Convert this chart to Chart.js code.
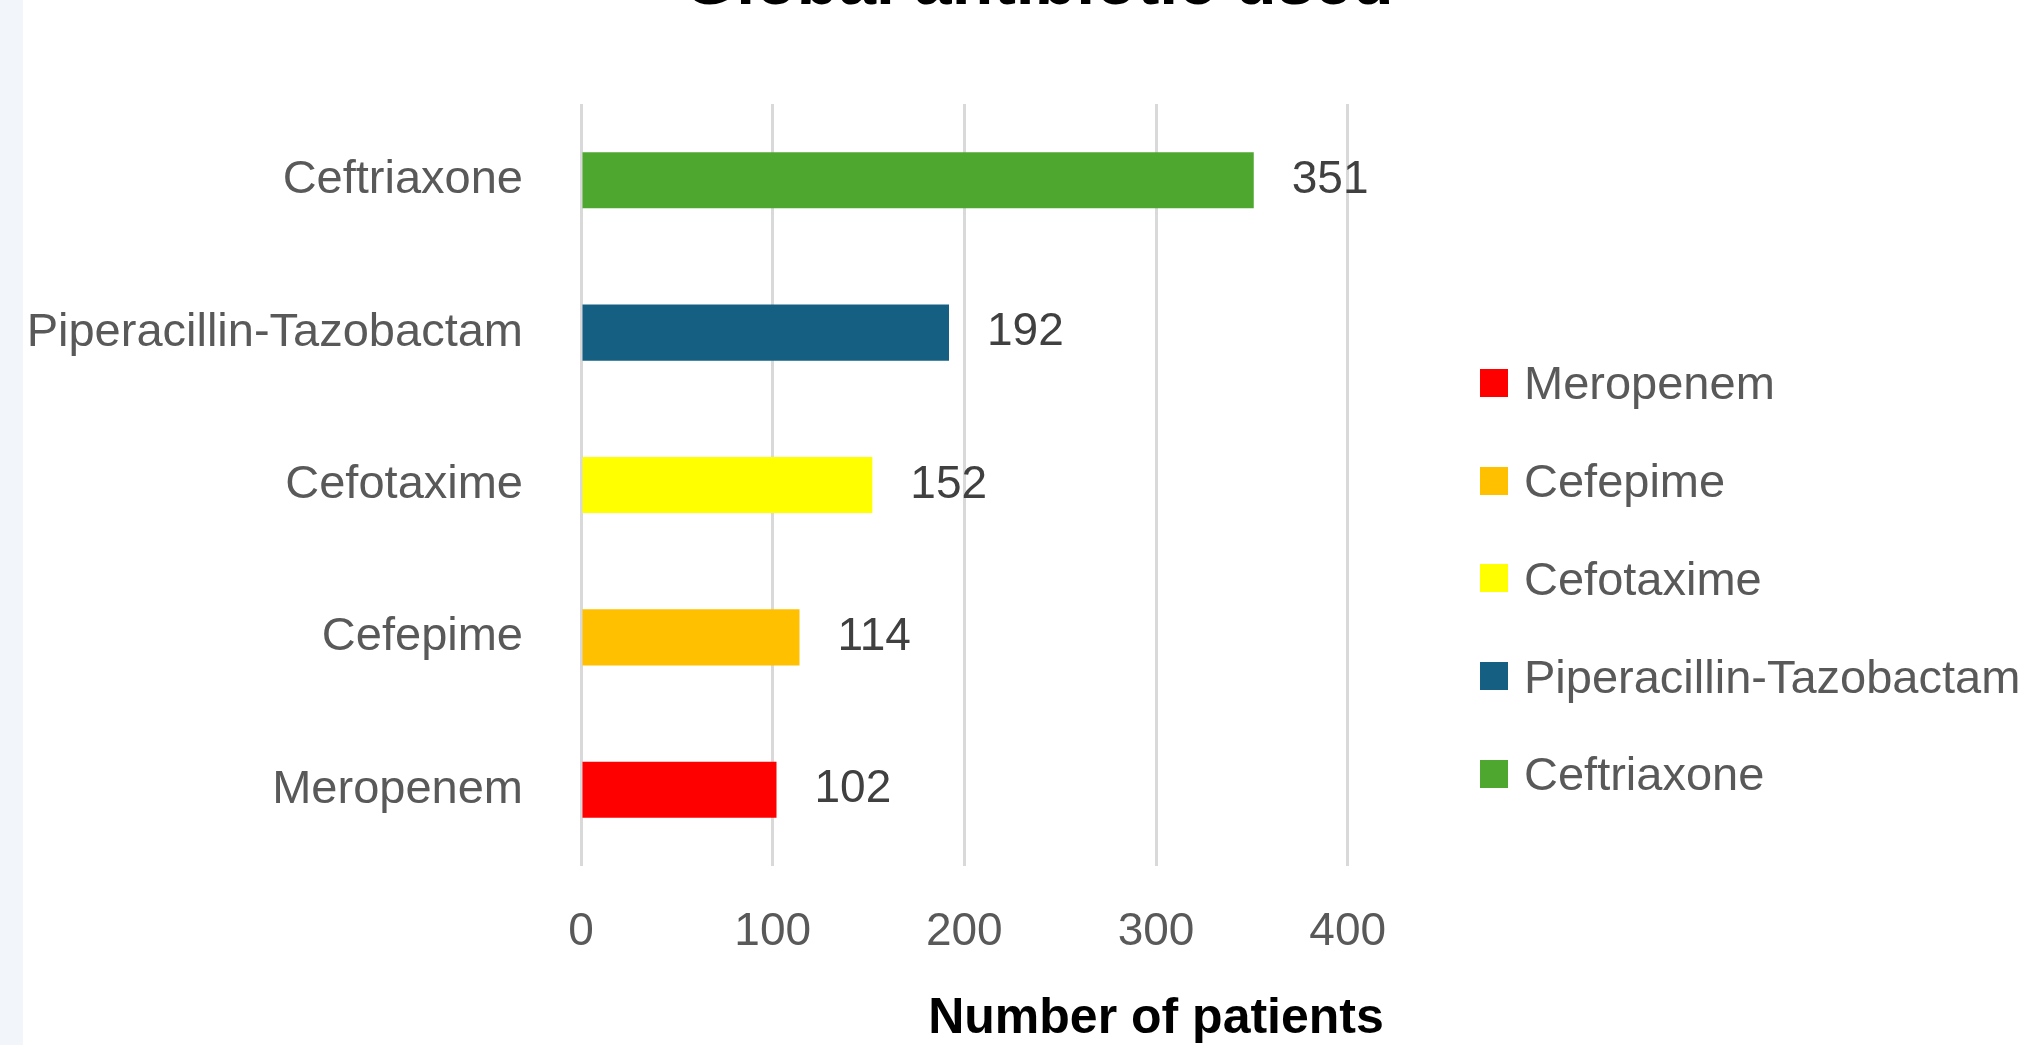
<!DOCTYPE html>
<html>
<head>
<meta charset="utf-8">
<title>Global antibiotic used</title>
<script src="https://cdn.jsdelivr.net/npm/chart.js@4.4.1/dist/chart.umd.min.js"></script>
<style>
  html, body { margin: 0; padding: 0; }
  body { width: 2029px; height: 1045px; overflow: hidden; background: #f2f5f9; position: relative; font-family: 'Liberation Sans', Arial, sans-serif; }
  #wrap { position: absolute; left: 23px; top: -56px; width: 2031px; height: 1101px; background: #fff; }
  #legend { position: absolute; left: 1480px; top: 334px; }
  #legend .item { height: 97.75px; display: flex; align-items: center; font-size: 47px; color: #595959; white-space: nowrap; }
  #legend .box { width: 28px; height: 28px; margin-right: 16px; flex: none; }
</style>
</head>
<body>
<div id="wrap"><canvas id="antibioticChart"></canvas></div>
<div id="legend"></div>
<script>
// antibiotics, in series order (first one sits at the bottom of the chart)
const categories = ['Meropenem', 'Cefepime', 'Cefotaxime', 'Piperacillin-Tazobactam', 'Ceftriaxone'];
const patients = [102, 114, 152, 192, 351];
const barColors = ['#ff0000', '#ffc000', '#ffff00', '#156082', '#4ea72e'];
const xTickValues = [0, 100, 200, 300, 400];

Chart.defaults.font.family = "'Liberation Sans', Arial, sans-serif";

// value written just right of each bar
const valueLabels = {
  id: 'valueLabels',
  afterDatasetsDraw(chart) {
    const ctx = chart.ctx;
    const meta = chart.getDatasetMeta(0);
    ctx.save();
    ctx.font = "46px 'Liberation Sans', Arial, sans-serif";
    ctx.fillStyle = '#404040';
    ctx.textAlign = 'left';
    ctx.textBaseline = 'middle';
    meta.data.forEach((bar, i) => {
      ctx.fillText(String(patients[i]), bar.x + 38, bar.y);
    });
    ctx.restore();
  }
};

const ctx = document.getElementById('antibioticChart').getContext('2d');
new Chart(ctx, {
  type: 'bar',
  data: {
    labels: categories,
    datasets: [{
      label: 'Number of patients',
      data: patients,
      backgroundColor: barColors,
      borderWidth: 0,
      categoryPercentage: 1,
      barPercentage: 0.368
    }]
  },
  options: {
    indexAxis: 'y',
    responsive: true,
    maintainAspectRatio: false,
    animation: false,
    layout: { padding: 0 },
    plugins: {
      legend: { display: false },
      tooltip: { enabled: false },
      title: {
        display: true,
        text: 'Global antibiotic used',
        color: '#000',
        font: { size: 68, weight: 'bold' },
        padding: { top: 0, bottom: 78.4 }
      }
    },
    scales: {
      x: {
        min: 0,
        max: 600, // plot area runs past 400 in the original, only 0-400 is labelled
        afterBuildTicks(scale) {
          scale.ticks = xTickValues.map(v => ({ value: v }));
        },
        grid: { color: '#d9d9d9', lineWidth: 3, drawTicks: false },
        border: { display: false },
        ticks: { color: '#595959', font: { size: 46 }, padding: 39 },
        title: {
          display: true,
          text: 'Number of patients',
          color: '#000',
          font: { size: 50, weight: 'bold' },
          padding: { top: -10.2, bottom: -4 }
        }
      },
      y: {
        reverse: true,
        grid: { display: false },
        border: { display: false },
        ticks: { color: '#595959', font: { size: 47 }, padding: 50 },
        afterFit(scale) { scale.width = 558; }
      },
      // empty right-hand axis that keeps room for the legend
      gap: {
        type: 'linear',
        position: 'right',
        grid: { display: false },
        border: { display: false },
        ticks: { display: false },
        afterFit(scale) { scale.width = 323; }
      }
    }
  },
  plugins: [valueLabels]
});

// legend, same order as the series
const legendEl = document.getElementById('legend');
categories.forEach((name, i) => {
  const item = document.createElement('div');
  item.className = 'item';
  item.innerHTML = `<span class="box" style="background:${barColors[i]}"></span><span>${name}</span>`;
  legendEl.appendChild(item);
});
</script>
</body>
</html>
